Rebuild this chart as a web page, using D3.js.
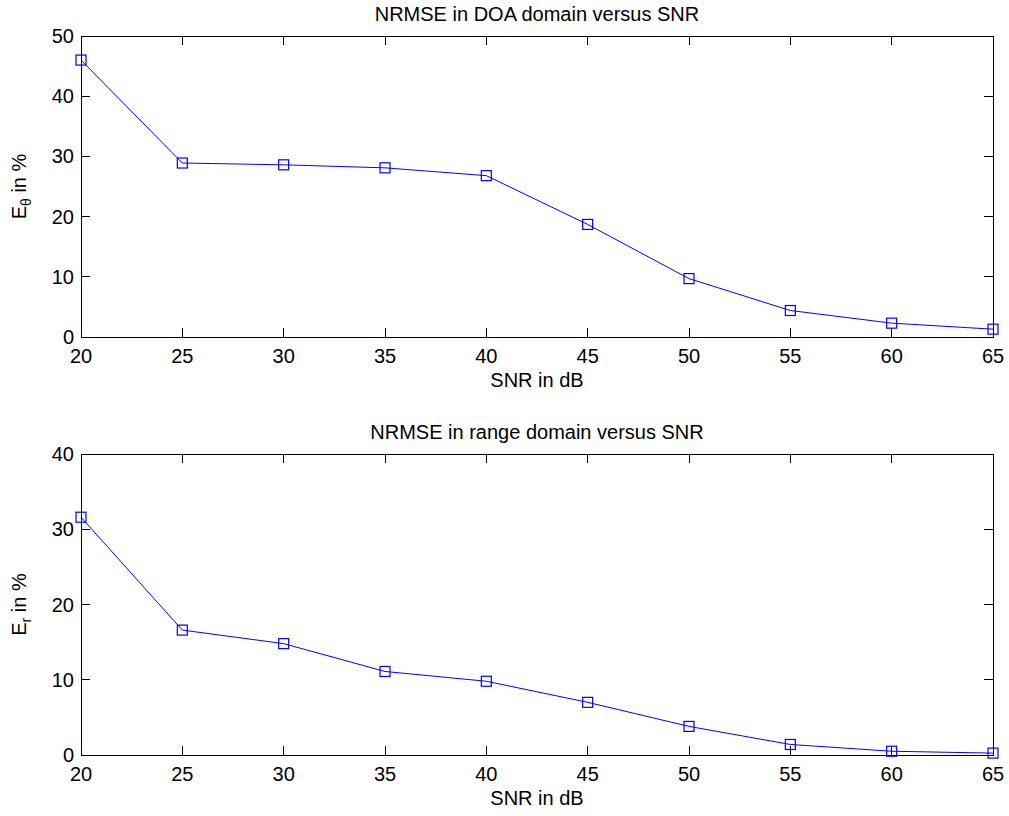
<!DOCTYPE html>
<html>
<head>
<meta charset="utf-8">
<script src="https://cdn.jsdelivr.net/npm/d3@7"></script>
<style>
  html, body { margin: 0; padding: 0; background: #fff; }
  svg text { font-family: "Liberation Sans", Arial, Helvetica, sans-serif; fill: #000; }
</style>
</head>
<body>
<svg id="fig" width="1009" height="816"></svg>
<script>
// SNR sweep (dB)
const snr = [20, 25, 30, 35, 40, 45, 50, 55, 60, 65];
// Normalised RMSE (%) in the DOA domain
const errTheta = [46.0, 28.9, 28.6, 28.1, 26.8, 18.7, 9.7, 4.4, 2.3, 1.3];
// Normalised RMSE (%) in the range domain
const errRange = [31.6, 16.6, 14.8, 11.1, 9.8, 7.0, 3.8, 1.4, 0.5, 0.25];

const xTicks = [20, 25, 30, 35, 40, 45, 50, 55, 60, 65];
const yTicksTheta = [0, 10, 20, 30, 40, 50];
const yTicksRange = [0, 10, 20, 30, 40];

const svg = d3.select("#fig");
const FS = 20;
const TICK = 9;

function panel(opts) {
  const { top, bottom, left, right, values, yMax, yTicks, title, ySub } = opts;
  const x = d3.scaleLinear().domain([20, 65]).range([left, right]);
  const y = d3.scaleLinear().domain([0, yMax]).range([bottom, top]);
  const g = svg.append("g");

  // frame
  g.append("rect")
    .attr("x", left).attr("y", top)
    .attr("width", right - left).attr("height", bottom - top)
    .attr("fill", "none").attr("stroke", "#000").attr("stroke-width", 1)
    .attr("shape-rendering", "crispEdges");

  // inward ticks on all four sides
  const ticks = g.append("g").attr("stroke", "#000").attr("stroke-width", 1)
    .attr("shape-rendering", "crispEdges");
  xTicks.forEach(v => {
    ticks.append("line").attr("x1", x(v)).attr("x2", x(v)).attr("y1", bottom).attr("y2", bottom - TICK);
    ticks.append("line").attr("x1", x(v)).attr("x2", x(v)).attr("y1", top).attr("y2", top + TICK);
  });
  yTicks.forEach(v => {
    ticks.append("line").attr("x1", left).attr("x2", left + TICK).attr("y1", y(v)).attr("y2", y(v));
    ticks.append("line").attr("x1", right).attr("x2", right - TICK).attr("y1", y(v)).attr("y2", y(v));
  });

  // tick labels
  g.selectAll(".xl").data(xTicks).enter().append("text")
    .attr("x", d => x(d)).attr("y", bottom + 26)
    .attr("text-anchor", "middle").attr("font-size", FS)
    .text(d => d);
  g.selectAll(".yl").data(yTicks).enter().append("text")
    .attr("x", left - 7).attr("y", d => y(d) + 7)
    .attr("text-anchor", "end").attr("font-size", FS)
    .text(d => d);

  // title and axis labels
  g.append("text")
    .attr("x", (left + right) / 2).attr("y", top - 15)
    .attr("text-anchor", "middle").attr("font-size", FS)
    .text(title);
  g.append("text")
    .attr("x", (left + right) / 2).attr("y", bottom + 50)
    .attr("text-anchor", "middle").attr("font-size", FS)
    .text("SNR in dB");
  const yl = g.append("text")
    .attr("transform", `translate(26,${(top + bottom) / 2}) rotate(-90)`)
    .attr("text-anchor", "middle").attr("font-size", FS);
  yl.append("tspan").text("E");
  yl.append("tspan").attr("font-size", 14).attr("dy", 5).text(ySub);
  yl.append("tspan").attr("dy", -5).text(" in %");

  // data line and square markers
  const pts = snr.map((s, i) => [s, values[i]]);
  g.append("path")
    .datum(pts)
    .attr("fill", "none").attr("stroke", "#0000ff").attr("stroke-width", 1)
    .attr("d", d3.line().x(d => x(d[0])).y(d => y(d[1])));
  const M = 10;
  g.selectAll(".mk").data(pts).enter().append("rect")
    .attr("x", d => x(d[0]) - M / 2).attr("y", d => y(d[1]) - M / 2)
    .attr("width", M).attr("height", M)
    .attr("fill", "none").attr("stroke", "#0000ff").attr("stroke-width", 1.2);
}

panel({ top: 36, bottom: 337, left: 81, right: 993, values: errTheta, yMax: 50,
        yTicks: yTicksTheta, title: "NRMSE in DOA domain versus SNR", ySub: "θ" });
panel({ top: 454, bottom: 755, left: 81, right: 993, values: errRange, yMax: 40,
        yTicks: yTicksRange, title: "NRMSE in range domain versus SNR", ySub: "r" });
</script>
</body>
</html>
